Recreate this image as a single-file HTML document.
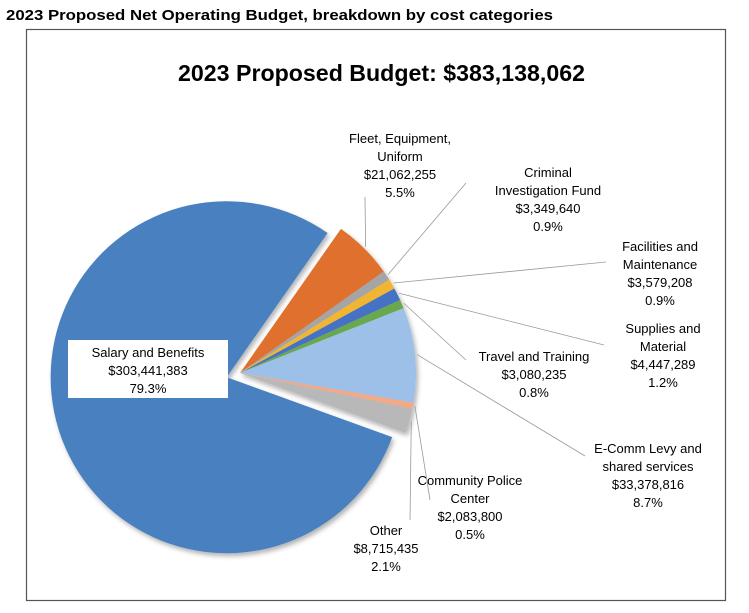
<!DOCTYPE html>
<html><head><meta charset="utf-8"><style>
body{margin:0;background:#fff;font-family:"Liberation Sans",Arial,sans-serif}
svg text{font-family:"Liberation Sans",Arial,sans-serif}
</style></head><body>
<svg id="c" width="749" height="608" viewBox="0 0 749 608">
<defs>
<filter id="sh" x="-20%" y="-20%" width="140%" height="140%"><feDropShadow dx="2" dy="3" stdDeviation="2.5" flood-color="#000" flood-opacity="0.3"/></filter>
</defs>
<text x="6" y="20" font-size="15" font-weight="bold" textLength="547" lengthAdjust="spacingAndGlyphs">2023 Proposed Net Operating Budget, breakdown by cost categories</text>
<rect x="26.5" y="29.5" width="699" height="571" fill="#fff" stroke="#555" stroke-width="1.2"/>
<text x="178" y="81" font-size="23" font-weight="bold" textLength="407" lengthAdjust="spacingAndGlyphs">2023 Proposed Budget: $383,138,062</text>
<g id="pie" filter="url(#sh)"></g>
<g id="lines"></g>
<g id="labels"></g>
</svg>
<script>
const categories=["Fleet, Equipment, Uniform","Criminal Investigation Fund","Facilities and Maintenance","Supplies and Material","Travel and Training","E-Comm Levy and shared services","Community Police Center","Other","Salary and Benefits"];
const amounts=[21062255,3349640,3579208,4447289,3080235,33378816,2083800,8715435,303441383];
const amountLabels=["$21,062,255","$3,349,640","$3,579,208","$4,447,289","$3,080,235","$33,378,816","$2,083,800","$8,715,435","$303,441,383"];
const percentLabels=["5.5%","0.9%","0.9%","1.2%","0.8%","8.7%","0.5%","2.1%","79.3%"];
const colors=["#e0702e","#a5a5a5","#f2b531","#4472c4","#6aa84f","#9dc0e8","#f4a886","#b8b8b8","#4a80bf"];
const startDeg=35, cx=240, cy=373, R=176, explode=14;
const svg=document.getElementById('c'), NS="http://www.w3.org/2000/svg";
const total=amounts.reduce((a,b)=>a+b,0);
function pt(deg,r,ox,oy){const a=deg*Math.PI/180;return [ox+r*Math.sin(a),oy-r*Math.cos(a)];}
let acc=startDeg;
const pieG=document.getElementById('pie');
const mids=[];
amounts.forEach((v,i)=>{
  const sweep=v/total*360, a0=acc, a1=acc+sweep; acc=a1;
  const mid=(a0+a1)/2; mids.push(mid);
  let ox=cx,oy=cy;
  if(i===amounts.length-1){const o=pt(mid,explode,0,0);ox+=o[0];oy+=o[1];}
  const p0=pt(a0,R,ox,oy),p1=pt(a1,R,ox,oy);
  const path=document.createElementNS(NS,'path');
  path.setAttribute('d',`M${ox},${oy}L${p0[0]},${p0[1]}A${R},${R} 0 ${sweep>180?1:0} 1 ${p1[0]},${p1[1]}Z`);
  path.setAttribute('fill',colors[i]);
  
  
  pieG.appendChild(path);
});
const labelPos=[[400,143,["Fleet, Equipment,","Uniform"],[365,197]],
 [548,177,["Criminal","Investigation Fund"],[466,183]],
 [660,251,["Facilities and","Maintenance"],[606,262]],
 [663,333,["Supplies and","Material"],[604,345]],
 [534,361,["Travel and Training"],[466,360]],
 [648,453,["E-Comm Levy and","shared services"],[585,456]],
 [470,485,["Community Police","Center"],[430,500]],
 [386,535,["Other"],[410,520]]];
const linesG=document.getElementById('lines'), labG=document.getElementById('labels');
labelPos.forEach((lp,i)=>{
  const s=pt(mids[i],R+2,cx,cy);
  const ln=document.createElementNS(NS,'line');
  ln.setAttribute('x1',s[0]);ln.setAttribute('y1',s[1]);ln.setAttribute('x2',lp[3][0]);ln.setAttribute('y2',lp[3][1]);
  ln.setAttribute('stroke','#999');ln.setAttribute('stroke-width','0.8');
  
  
  linesG.appendChild(ln);
  const t=document.createElementNS(NS,'text');
  t.setAttribute('text-anchor','middle');t.setAttribute('font-size','13');
  
  
  const lines=lp[2].concat([amountLabels[i],percentLabels[i]]);
  lines.forEach((s2,k)=>{const ts=document.createElementNS(NS,'tspan');ts.setAttribute('x',lp[0]);ts.setAttribute('y',lp[1]+k*18);ts.textContent=s2;t.appendChild(ts);});
  labG.appendChild(t);
});
const box=document.createElementNS(NS,'rect');
box.setAttribute('x',68);box.setAttribute('y',340);box.setAttribute('width',160);box.setAttribute('height',58);box.setAttribute('fill','#fff');


labG.appendChild(box);
const st=document.createElementNS(NS,'text');
st.setAttribute('text-anchor','middle');st.setAttribute('font-size','13');


["Salary and Benefits",amountLabels[8],percentLabels[8]].forEach((s2,k)=>{const ts=document.createElementNS(NS,'tspan');ts.setAttribute('x',148);ts.setAttribute('y',357+k*18);ts.textContent=s2;st.appendChild(ts);});
labG.appendChild(st);
</script>
</body></html>
